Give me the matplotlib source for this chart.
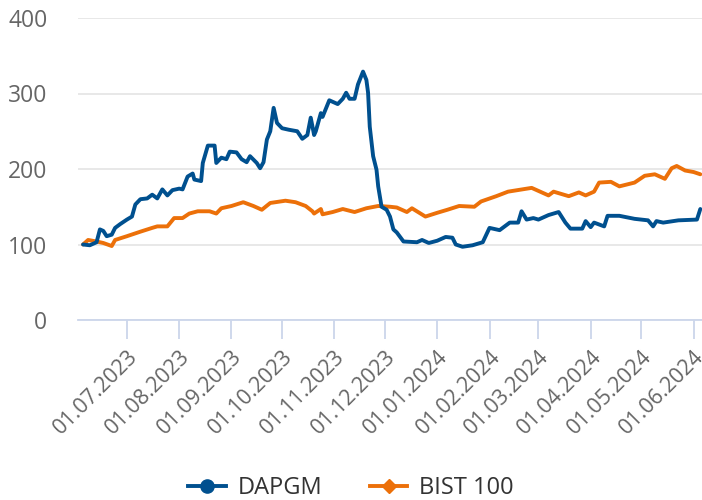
import matplotlib
matplotlib.use("Agg")
import matplotlib.pyplot as plt
from matplotlib.lines import Line2D
import pandas as pd

# DAPGM, normalised to 100 at start
dapgm_dates = [
    "2023-06-05", "2023-06-09", "2023-06-13", "2023-06-15", "2023-06-17", "2023-06-19",
    "2023-06-22", "2023-06-24", "2023-06-27", "2023-07-01", "2023-07-04", "2023-07-06",
    "2023-07-09", "2023-07-13", "2023-07-16", "2023-07-19", "2023-07-22", "2023-07-25",
    "2023-07-28", "2023-08-01", "2023-08-03", "2023-08-06", "2023-08-09", "2023-08-10",
    "2023-08-14", "2023-08-15", "2023-08-18", "2023-08-22", "2023-08-23", "2023-08-26",
    "2023-08-29", "2023-08-31", "2023-09-04", "2023-09-07", "2023-09-10", "2023-09-12",
    "2023-09-16", "2023-09-18", "2023-09-20", "2023-09-22", "2023-09-24", "2023-09-26",
    "2023-09-28", "2023-10-01", "2023-10-05", "2023-10-10", "2023-10-13", "2023-10-16",
    "2023-10-18", "2023-10-20", "2023-10-21", "2023-10-24", "2023-10-25", "2023-10-29",
    "2023-11-03", "2023-11-06", "2023-11-08", "2023-11-10", "2023-11-13", "2023-11-15",
    "2023-11-18", "2023-11-20", "2023-11-21", "2023-11-22", "2023-11-24", "2023-11-26",
    "2023-11-27", "2023-11-29", "2023-12-02", "2023-12-04", "2023-12-06", "2023-12-08",
    "2023-12-12", "2023-12-20", "2023-12-23", "2023-12-27", "2024-01-01", "2024-01-06",
    "2024-01-10", "2024-01-12", "2024-01-16", "2024-01-22", "2024-01-28", "2024-02-01",
    "2024-02-07", "2024-02-13", "2024-02-18", "2024-02-20", "2024-02-23", "2024-02-27",
    "2024-03-01", "2024-03-07", "2024-03-13", "2024-03-17", "2024-03-20", "2024-03-27",
    "2024-03-29", "2024-04-01", "2024-04-03", "2024-04-09", "2024-04-11", "2024-04-18",
    "2024-04-27", "2024-05-05", "2024-05-08", "2024-05-10", "2024-05-14", "2024-05-23",
    "2024-06-03", "2024-06-05",
]
dapgm_values = [
    100, 99, 103, 120, 118, 111,
    113, 122, 127, 133, 137, 153,
    160, 161, 166, 161, 173, 165,
    172, 174, 173, 190, 194, 186,
    184, 208, 231, 231, 208, 215,
    213, 223, 222, 213, 209, 217,
    208, 201, 209, 239, 250, 281,
    261, 254, 252, 250, 240, 245,
    268, 245, 250, 274, 269, 291,
    286, 293, 301, 293, 293, 312,
    329, 318, 301, 256, 217, 199,
    177, 150, 146, 137, 120, 116,
    104, 103, 106, 102, 105, 110,
    109, 100, 97, 99, 103, 122,
    119, 129, 129, 144, 133, 135,
    133, 139, 143, 129, 121, 121,
    131, 123, 129, 124, 138, 138,
    134, 132, 124, 131, 129, 132,
    133, 147,
]

# BIST 100, normalised to 100 at start
bist_dates = [
    "2023-06-05", "2023-06-08", "2023-06-13", "2023-06-17", "2023-06-22", "2023-06-24",
    "2023-07-01", "2023-07-09", "2023-07-16", "2023-07-19", "2023-07-25", "2023-07-29",
    "2023-08-03", "2023-08-07", "2023-08-12", "2023-08-19", "2023-08-23", "2023-08-26",
    "2023-09-01", "2023-09-08", "2023-09-14", "2023-09-19", "2023-09-24", "2023-10-03",
    "2023-10-09", "2023-10-15", "2023-10-19", "2023-10-20", "2023-10-24", "2023-10-25",
    "2023-10-31", "2023-11-06", "2023-11-13", "2023-11-20", "2023-11-27", "2023-12-04",
    "2023-12-08", "2023-12-14", "2023-12-17", "2023-12-25", "2024-01-01", "2024-01-07",
    "2024-01-14", "2024-01-23", "2024-01-27", "2024-02-05", "2024-02-12", "2024-02-26",
    "2024-03-07", "2024-03-10", "2024-03-19", "2024-03-25", "2024-03-29", "2024-04-03",
    "2024-04-06", "2024-04-13", "2024-04-18", "2024-04-27", "2024-05-03", "2024-05-09",
    "2024-05-15", "2024-05-19", "2024-05-22", "2024-05-27", "2024-06-01", "2024-06-05",
]
bist_values = [
    100, 106, 104, 102, 98, 106,
    111, 117, 122, 124, 124, 135,
    135, 141, 144, 144, 141, 148,
    151, 156, 151, 146, 155, 158,
    156, 151, 144, 141, 147, 140,
    143, 147, 143, 148, 151, 150,
    149, 143, 148, 137, 142, 146,
    151, 150, 157, 164, 170, 175,
    165, 170, 164, 169, 165, 170,
    182, 183, 177, 182, 191, 193,
    187, 201, 204, 198, 196, 193,
]

tick_dates = ["2023-07-01", "2023-08-01", "2023-09-01", "2023-10-01", "2023-11-01", "2023-12-01",
              "2024-01-01", "2024-02-01", "2024-03-01", "2024-04-01", "2024-05-01", "2024-06-01"]
y_ticks = [0, 100, 200, 300, 400]

BLUE = "#00508f"
ORANGE = "#ec7009"

plt.rcParams["font.family"] = ["Open Sans", "DejaVu Sans"]

fig = plt.figure(figsize=(7.02, 5.0), dpi=100)
ax = fig.add_axes([78 / 702, 1 - 320 / 500, 624 / 702, 302 / 500])

ax.plot(pd.to_datetime(bist_dates), bist_values, color=ORANGE, lw=2.8,
        solid_joinstyle="round", solid_capstyle="round", zorder=3)
ax.plot(pd.to_datetime(dapgm_dates), dapgm_values, color=BLUE, lw=2.8,
        solid_joinstyle="round", solid_capstyle="round", zorder=4)

ax.set_xlim(pd.Timestamp("2023-06-02"), pd.Timestamp("2024-06-06"))
ax.set_ylim(0, 400)

ax.set_yticks(y_ticks)
ax.set_yticklabels([str(v) for v in y_ticks])
ax.grid(axis="y", color="#e6e6e6", lw=1.3)
ax.set_axisbelow(True)
ax.tick_params(axis="y", length=0, pad=22, labelsize=16.5, labelcolor="#666666")

ticks = pd.to_datetime(tick_dates)
ax.set_xticks(ticks)
ax.set_xticklabels([t.strftime("%d.%m.%Y") for t in ticks])
ax.tick_params(axis="x", length=14, width=1.3, color="#ccd6eb", direction="out",
               pad=5, labelsize=15.5, labelcolor="#666666")
for lbl in ax.get_xticklabels():
    lbl.set_rotation(45)
    lbl.set_ha("right")
    lbl.set_va("top")
    lbl.set_rotation_mode("anchor")

for s in ["top", "right", "left"]:
    ax.spines[s].set_visible(False)
ax.spines["bottom"].set_color("#ccd6eb")
ax.spines["bottom"].set_linewidth(1.3)

handles = [
    Line2D([], [], color=BLUE, lw=2.8, marker="o", markersize=9.5),
    Line2D([], [], color=ORANGE, lw=2.8, marker="D", markersize=7.5),
]
fig.legend(handles, ["DAPGM", "BIST 100"], loc="center", bbox_to_anchor=(0.5, 1 - 488 / 500),
           ncol=2, frameon=False, fontsize=17, labelcolor="#333333",
           handlelength=1.6, handletextpad=0.5, columnspacing=2.0)

fig.savefig("out.png", dpi=100)
